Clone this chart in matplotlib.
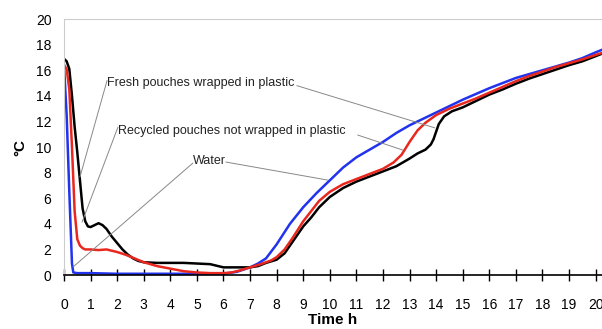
import matplotlib.pyplot as plt
import numpy as np

plt.rcParams['font.family'] = ['Liberation Sans', 'DejaVu Sans']

# Fresh pouches wrapped in plastic (black)
t_fresh = [0, 0.1, 0.2, 0.3, 0.4, 0.5, 0.6, 0.7, 0.8, 0.9, 1.0, 1.15, 1.3, 1.45, 1.6, 1.8, 2.0, 2.2, 2.4,
           2.6, 2.8, 3.0, 3.5, 4.0, 4.5, 5.0, 5.5, 5.8, 6.0, 6.5, 7.0, 7.3, 7.6, 8.0, 8.3, 8.6, 9.0, 9.3,
           9.6, 10.0, 10.5, 11.0, 11.5, 12.0, 12.5, 13.0, 13.3, 13.6, 13.8, 13.9, 14.0, 14.1, 14.3, 14.6,
           15.0, 15.5, 16, 16.5, 17, 17.5, 18, 18.5, 19, 19.5, 20, 20.24]
v_fresh = [16.9, 16.7, 16.1, 14.0, 11.6, 9.6, 7.4, 5.2, 4.2, 3.8, 3.75, 3.9, 4.05, 3.9, 3.6, 3.0, 2.5, 2.0, 1.6,
           1.3, 1.1, 1.0, 0.95, 0.95, 0.95, 0.9, 0.85, 0.7, 0.6, 0.6, 0.6, 0.7, 0.95, 1.2, 1.7, 2.6, 3.8, 4.5,
           5.3, 6.1, 6.8, 7.3, 7.7, 8.1, 8.5, 9.1, 9.5, 9.8, 10.2, 10.6, 11.2, 11.8, 12.4, 12.8,
           13.1, 13.6, 14.1, 14.5, 14.95, 15.35, 15.7, 16.05, 16.4, 16.7, 17.1, 17.3]

# Recycled pouches not wrapped in plastic (red)
t_recyc = [0, 0.1, 0.2, 0.3, 0.4, 0.5, 0.6, 0.7, 0.8, 1.0, 1.3, 1.6, 2.0, 2.3, 2.6, 3.0, 3.5, 4.0, 4.5, 5.0,
           5.5, 6.0, 6.3, 6.6, 7.0, 7.4, 7.8, 8.0, 8.3, 8.6, 9.0, 9.3, 9.6, 10.0, 10.5, 11.0, 11.5, 12.0,
           12.4, 12.7, 13.0, 13.3, 13.6, 14.0, 14.5, 15.0, 15.5, 16, 16.5, 17, 17.5, 18, 18.5, 19, 19.5,
           20, 20.24]
v_recyc = [16.4, 16.1, 14.5, 10.0, 5.0, 2.8, 2.3, 2.1, 2.0, 2.0, 1.95, 2.0, 1.8, 1.6, 1.35, 1.0, 0.7, 0.5, 0.3, 0.2,
           0.15, 0.15, 0.2, 0.35, 0.6, 0.85, 1.15, 1.4, 2.0, 2.9, 4.2, 5.0, 5.8, 6.5, 7.1, 7.5, 7.9, 8.3,
           8.8, 9.4, 10.4, 11.3, 11.9, 12.5, 13.0, 13.4, 13.8, 14.25, 14.7, 15.15, 15.55, 15.9, 16.25, 16.55, 16.85,
           17.2, 17.35]

# Water (blue)
t_water = [0, 0.1, 0.2, 0.3, 0.35, 0.5, 1, 2, 3, 4, 5, 6, 6.5, 7.0, 7.3, 7.6, 8.0, 8.5, 9.0, 9.5, 10, 10.5,
           11, 11.5, 12, 12.5, 13, 13.5, 14, 14.5, 15, 15.5, 16, 16.5, 17, 17.5, 18, 18.5, 19, 19.5, 20, 20.24]
v_water = [16.4, 12.5, 6.5, 0.9, 0.2, 0.15, 0.15, 0.1, 0.1, 0.1, 0.1, 0.1, 0.25, 0.6, 0.9, 1.3, 2.4, 4.0, 5.3,
           6.4, 7.4, 8.4, 9.2, 9.8, 10.4, 11.1, 11.7, 12.2, 12.7, 13.2, 13.7, 14.15, 14.6, 15.0, 15.4, 15.7,
           16.0, 16.3, 16.6, 16.95, 17.4, 17.6]

# labels: text, text position, leader lines (start, end)
labels = ['Fresh pouches wrapped in plastic', 'Recycled pouches not wrapped in plastic', 'Water']
label_pos = [(1.62, 15.0), (2.03, 11.25), (4.85, 8.9)]
leaders = [
    [((1.62, 15.2), (0.6, 7.66)), ((8.76, 14.8), (13.95, 11.5))],
    [((2.03, 11.56), (0.68, 4.14)), ((11.05, 10.94), (12.74, 9.77))],
    [((4.85, 8.75), (0.34, 0.63)), ((6.09, 8.83), (9.92, 7.42))],
]

fig = plt.figure(figsize=(6.02, 3.29), dpi=100)
ax = fig.add_axes([0.1063, 0.164, 0.8937, 0.778])

ax.plot(t_water, v_water, color='#2233ee', lw=1.8)
ax.plot(t_fresh, v_fresh, color='black', lw=1.8)
ax.plot(t_recyc, v_recyc, color='#e8281e', lw=1.8)

for name, pos, segs in zip(labels, label_pos, leaders):
    ax.text(pos[0], pos[1], name, fontsize=9, ha='left', va='center', color='#222222')
    for start, end in segs:
        ax.annotate('', xy=end, xytext=start,
                    arrowprops=dict(arrowstyle='-', color='#888888', lw=0.7,
                                    shrinkA=0, shrinkB=0))

ax.set_xlim(0, 20.24)
ax.set_ylim(0, 20)
ax.set_xticks(range(0, 21))
ax.set_yticks(range(0, 21, 2))
ax.tick_params(axis='x', direction='inout', length=9, width=1, pad=12, labelsize=10)
ax.tick_params(axis='y', length=0, pad=9, labelsize=10)

ax.spines['right'].set_visible(False)
ax.spines['top'].set_color('#cccccc')
ax.spines['left'].set_color('#cccccc')
ax.spines['bottom'].set_color('black')
ax.spines['bottom'].set_linewidth(1.2)

ax.set_xlabel('Time h', fontsize=11, fontweight='bold', labelpad=1)
ax.set_ylabel('°C', fontsize=11, fontweight='bold', labelpad=6)

fig.savefig('out.png', dpi=100)
